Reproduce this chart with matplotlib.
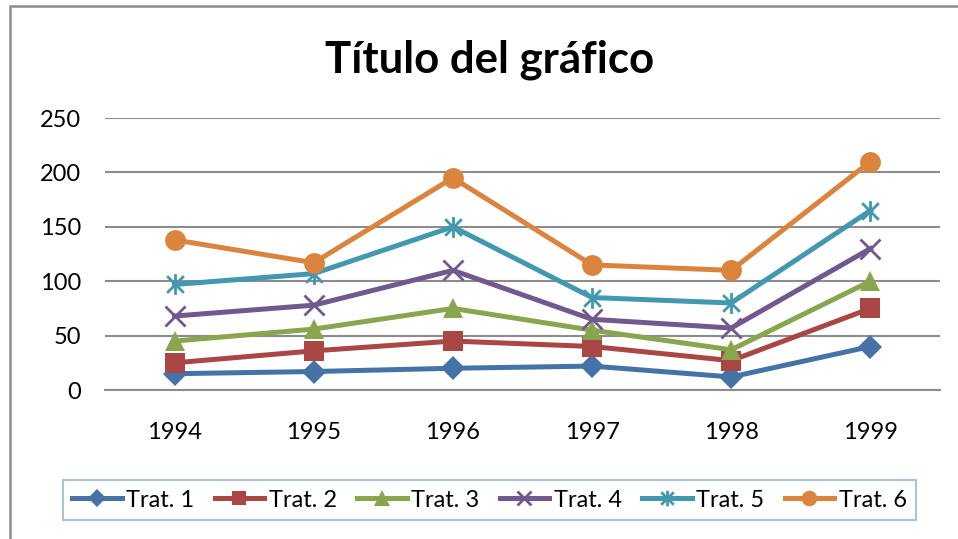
import numpy as np
import matplotlib
matplotlib.use("Agg")
import matplotlib.pyplot as plt
from matplotlib.path import Path
from matplotlib.patches import Rectangle

plt.rcParams['font.family'] = ['Lato', 'DejaVu Sans']

years = ['1994', '1995', '1996', '1997', '1998', '1999']
labels = ['Trat. 1', 'Trat. 2', 'Trat. 3', 'Trat. 4', 'Trat. 5', 'Trat. 6']
trat1 = [15, 17, 20, 22, 12, 40]
trat2 = [25, 36, 45, 40, 27, 75]
trat3 = [45, 56, 75, 55, 37, 100]
trat4 = [68, 78, 110, 65, 57, 130]
trat5 = [97, 107, 150, 85, 80, 165]
trat6 = [138, 117, 195, 115, 110, 210]
series = [trat1, trat2, trat3, trat4, trat5, trat6]

colors = ['#4572A7', '#AA4643', '#89A54E', '#71588F', '#4198AF', '#DB843D']

# excel style asterisk: vertical bar plus an x
star = Path([(-1, -1), (1, 1), (-1, 1), (1, -1), (0, -1.25), (0, 1.25)],
            [Path.MOVETO, Path.LINETO, Path.MOVETO, Path.LINETO, Path.MOVETO, Path.LINETO])
markers = ['D', 's', '^', 'x', star, 'o']
msizes = [12, 14, 15, 14, 15, 15]

fig = plt.figure(figsize=(9.58, 5.39), dpi=100)
ax = fig.add_axes([0.1096, 0.2764, 0.9812 - 0.1096, 0.781 - 0.2764])

x = np.arange(len(years))
for vals, lab, c, m, ms in zip(series, labels, colors, markers, msizes):
    hollow = m in ('x',) or isinstance(m, Path)
    ax.plot(x, vals, color=c, lw=3.6, marker=m, ms=ms, label=lab,
            mew=2 if hollow else 0, mec=c, mfc=c, solid_joinstyle='round')

ax.set_xlim(-0.5, 5.5)
ax.set_ylim(0, 250)
ax.set_yticks(np.arange(0, 251, 50))
ax.set_xticks(x)
ax.set_xticklabels(years)
ax.grid(axis='y', color='#8c8c8c', lw=1.5)
ax.set_axisbelow(True)
for s in ['top', 'right', 'left']:
    ax.spines[s].set_visible(False)
ax.spines['bottom'].set_color('#8c8c8c')
ax.spines['bottom'].set_linewidth(1.5)
ax.tick_params(axis='both', length=0, labelsize=17, colors='black')
ax.tick_params(axis='y', pad=17)
ax.tick_params(axis='x', pad=23)

fig.text(490 / 958, 1 - 72 / 539, 'Título del gráfico', ha='center', va='baseline',
         fontsize=31.5, fontweight='bold')

leg = fig.legend(loc='center', bbox_to_anchor=(0.511, 0.072), ncol=6, fontsize=17,
                 frameon=True, fancybox=False, markerscale=0.75, handlelength=2.1,
                 handletextpad=0.2, columnspacing=0.85, borderpad=0.4)
leg.get_frame().set_edgecolor('#95b3d7')
leg.get_frame().set_linewidth(1.5)

# outer chart border, cut off at right and bottom like the screenshot
fig.patches.append(Rectangle((9.5 / 958, -0.1), 1.2, 1.1 - 6 / 539, transform=fig.transFigure,
                             fill=False, edgecolor='#8c8c8c', lw=1.8))

fig.savefig('out.png', dpi=100)
